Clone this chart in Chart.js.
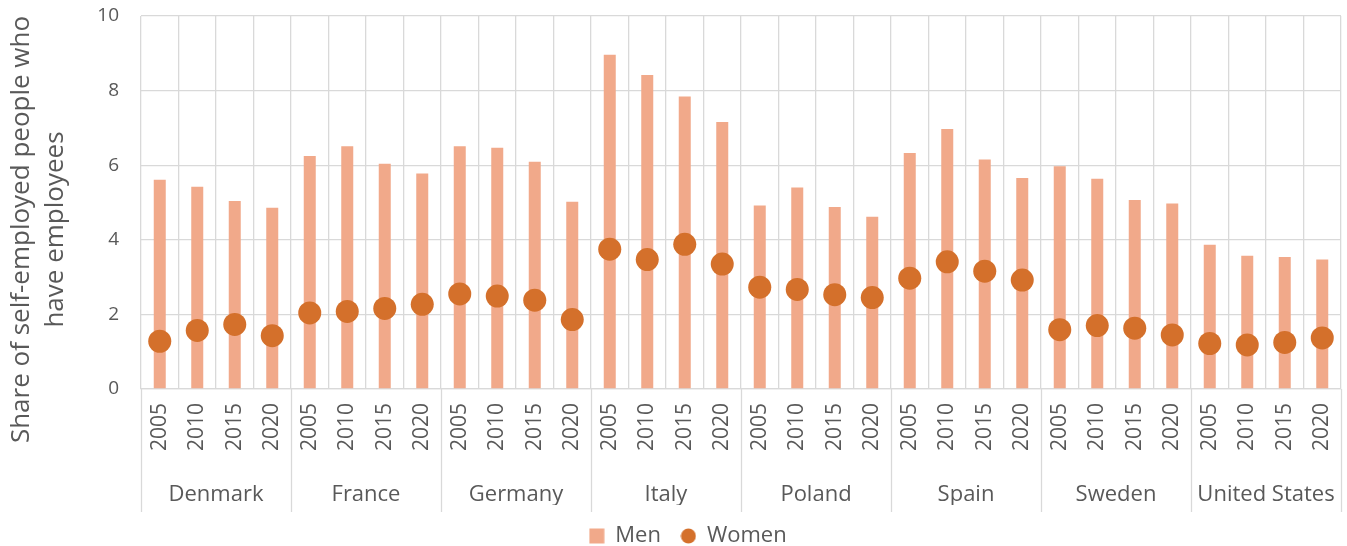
<!DOCTYPE html>
<html>
<head>
<meta charset="utf-8">
<script src="https://cdn.jsdelivr.net/npm/chart.js@4/dist/chart.umd.min.js"></script>
<style>
  html, body { margin: 0; padding: 0; background: #ffffff; }
  #wrap { width: 1347px; height: 546px; }
</style>
</head>
<body>
<div id="wrap"><canvas id="c" width="1347" height="546"></canvas></div>
<script>
const countries = ["Denmark", "France", "Germany", "Italy", "Poland", "Spain", "Sweden", "United States"];
const years = ["2005", "2010", "2015", "2020"];
const menValues = [
  5.61, 5.42, 5.04, 4.86,
  6.25, 6.51, 6.04, 5.78,
  6.51, 6.47, 6.09, 5.02,
  8.96, 8.42, 7.84, 7.16,
  4.92, 5.40, 4.88, 4.62,
  6.33, 6.97, 6.15, 5.66,
  5.97, 5.64, 5.07, 4.97,
  3.87, 3.57, 3.54, 3.47
];
const womenValues = [
  1.28, 1.57, 1.73, 1.43,
  2.04, 2.08, 2.16, 2.27,
  2.55, 2.49, 2.38, 1.86,
  3.75, 3.47, 3.88, 3.35,
  2.73, 2.67, 2.53, 2.45,
  2.97, 3.41, 3.16, 2.92,
  1.59, 1.70, 1.63, 1.45,
  1.22, 1.18, 1.25, 1.37
];
const yTicks = [0, 2, 4, 6, 8, 10];
const yTitle = ["Share of self-employed people who", "have employees"];

const yearLabels = [];
countries.forEach(() => years.forEach(y => yearLabels.push(y)));

const FONT = "'Open Sans', 'Noto Sans', sans-serif";
const TEXT = "#595959";
const GRID = "#d9d9d9";
const MEN = "#F1A98A";
const WOMEN = "#D4702B";
const PAD = "\u00a0".repeat(8);

function legendSwatch(kind, color) {
  const c = document.createElement("canvas");
  c.width = 16; c.height = 16;
  const g = c.getContext("2d");
  g.fillStyle = color;
  if (kind === "rect") { g.fillRect(0.5, 0.5, 15, 15); }
  else { g.beginPath(); g.arc(8, 8, 7.5, 0, Math.PI * 2); g.fill(); }
  return c;
}
const swatches = [legendSwatch("rect", MEN), legendSwatch("circle", WOMEN)];

const separators = {
  id: "separators",
  afterLayout(chart) {
    if (chart.legend) { chart.legend.left += 15; chart.legend.right += 15; }
  },
  afterDraw(chart) {
    const xs = chart.scales.x, x2 = chart.scales.x2;
    const step = xs.getPixelForValue(1) - xs.getPixelForValue(0);
    const ctx = chart.ctx;
    ctx.save();
    ctx.strokeStyle = GRID;
    ctx.lineWidth = 1.3;
    for (let i = 0; i <= countries.length; i++) {
      const idx = Math.min(i * years.length, yearLabels.length - 1);
      let px = xs.getPixelForValue(idx) + (i * years.length >= yearLabels.length ? step / 2 : -step / 2);
      px = Math.round(px) + 0.5;
      ctx.beginPath();
      ctx.moveTo(px, chart.chartArea.bottom);
      ctx.lineTo(px, x2.bottom + 7);
      ctx.stroke();
    }
    ctx.restore();
  }
};

function clearPad(s) { s.paddingTop = 0; s.paddingBottom = 0; s.paddingLeft = 0; s.paddingRight = 0; }

new Chart(document.getElementById("c"), {
  data: {
    labels: yearLabels,
    datasets: [
      {
        type: "bar",
        label: "Men",
        data: menValues,
        backgroundColor: MEN,
        borderWidth: 0,
        barPercentage: 0.32,
        categoryPercentage: 1.0,
        order: 2,
        xAxisID: "x",
        yAxisID: "y"
      },
      {
        type: "line",
        label: "Women",
        data: womenValues,
        showLine: false,
        pointRadius: 11.5,
        pointHoverRadius: 11.5,
        pointBackgroundColor: WOMEN,
        pointBorderColor: WOMEN,
        pointBorderWidth: 0,
        backgroundColor: WOMEN,
        borderColor: WOMEN,
        order: 1,
        xAxisID: "x",
        yAxisID: "y"
      }
    ]
  },
  options: {
    responsive: false,
    animation: false,
    devicePixelRatio: 1,
    layout: { autoPadding: false, padding: { top: 16, right: 6, left: 5, bottom: -11 } },
    plugins: {
      tooltip: { enabled: false },
      legend: {
        position: "bottom",
        labels: {
          color: TEXT,
          font: { family: FONT, size: 22 },
          usePointStyle: true,
          boxHeight: 15,
          boxWidth: 15,
          padding: 20,
          sort: (a, b) => a.datasetIndex - b.datasetIndex,
          generateLabels(chart) {
            const items = Chart.defaults.plugins.legend.labels.generateLabels(chart);
            items.forEach(it => { it.pointStyle = swatches[it.datasetIndex]; });
            return items;
          }
        }
      }
    },
    scales: {
      x: {
        type: "category",
        position: "bottom",
        weight: 0,
        afterFit(s) { clearPad(s); s.height = 69; },
        grid: { offset: true, color: GRID, lineWidth: 1.3, drawTicks: false },
        border: { color: GRID, width: 1.3 },
        ticks: {
          color: TEXT,
          font: { family: FONT, size: 21 },
          minRotation: 90,
          maxRotation: 90,
          autoSkip: false,
          padding: 14
        }
      },
      x2: {
        type: "category",
        position: "bottom",
        weight: 1,
        labels: countries,
        offset: true,
        afterFit(s) { clearPad(s); s.height = 47; },
        grid: { display: false, drawTicks: false },
        border: { display: false },
        ticks: {
          color: TEXT,
          font: { family: FONT, size: 22 },
          padding: 24,
          autoSkip: false,
          maxRotation: 0
        }
      },
      y: {
        min: 0,
        max: 10,
        afterBuildTicks(scale) { scale.ticks = yTicks.map(v => ({ value: v })); },
        afterFit(s) { clearPad(s); s.width = 136; },
        grid: { color: GRID, lineWidth: 1.3, drawTicks: false },
        border: { display: false },
        ticks: {
          color: TEXT,
          font: { family: FONT, size: 19 },
          padding: 22
        },
        title: {
          display: true,
          text: yTitle.map(t => t + PAD),
          color: TEXT,
          font: { family: FONT, size: 26, lineHeight: 1.3 },
          padding: { top: 0, bottom: 0 }
        }
      }
    }
  },
  plugins: [separators]
});
</script>
</body>
</html>
